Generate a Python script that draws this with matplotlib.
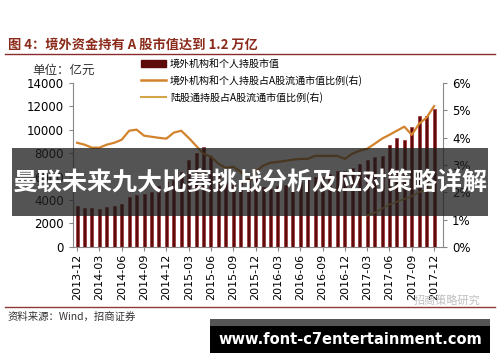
import matplotlib
matplotlib.use("Agg")
import matplotlib.pyplot as plt
from matplotlib.patches import Rectangle
from matplotlib.lines import Line2D
import numpy as np

plt.rcParams['font.family'] = ['Noto Sans CJK SC', 'DejaVu Sans']

months = ['2013-12', '2014-01', '2014-02', '2014-03', '2014-04', '2014-05', '2014-06',
          '2014-07', '2014-08', '2014-09', '2014-10', '2014-11', '2014-12',
          '2015-01', '2015-02', '2015-03', '2015-04', '2015-05', '2015-06',
          '2015-07', '2015-08', '2015-09', '2015-10', '2015-11', '2015-12',
          '2016-01', '2016-02', '2016-03', '2016-04', '2016-05', '2016-06',
          '2016-07', '2016-08', '2016-09', '2016-10', '2016-11', '2016-12',
          '2017-01', '2017-02', '2017-03', '2017-04', '2017-05', '2017-06',
          '2017-07', '2017-08', '2017-09', '2017-10', '2017-11', '2017-12']

# 境外机构和个人持股市值 (亿元)
holdings = [3450, 3350, 3290, 3230, 3370, 3460, 3630,
            4250, 4400, 4550, 4700, 5200, 5560,
            5700, 6400, 7400, 8000, 8550, 7800,
            6200, 5500, 5300, 5700, 5900, 5990,
            5100, 4900, 5230, 5300, 5350, 5500,
            5800, 6000, 6000, 6200, 6500, 6490,
            6700, 7100, 7460, 7700, 7800, 8660,
            9260, 9100, 10200, 11150, 11150, 11750]

# 境外机构和个人持股占A股流通市值比例 (%)
foreign_ratio = [3.81, 3.74, 3.63, 3.63, 3.74, 3.81, 3.92,
                 4.25, 4.29, 4.07, 4.03, 3.99, 3.96,
                 4.18, 4.25, 3.99, 3.70, 3.41, 3.30,
                 3.04, 2.89, 2.93, 2.75, 2.34, 2.75,
                 2.97, 3.08, 3.11, 3.15, 3.19, 3.22,
                 3.22, 3.33, 3.33, 3.33, 3.33, 3.22,
                 3.41, 3.52, 3.59, 3.77, 3.96, 4.10,
                 4.25, 4.40, 4.10, 4.51, 4.73, 5.15]

# 陆股通持股占A股流通市值比例 (%), from 2017-03
connect_ratio = [1.15, 1.25, 1.40, 1.55, 1.65, 1.75, 1.85, 2.00, 2.10, 2.25]

tick_labels = months[::3]

fig = plt.figure(figsize=(5.0, 3.62), dpi=100)
ax = fig.add_axes([0.146, 0.318, 0.74, 0.453])

x = np.arange(len(months))
ax.bar(x, holdings, width=0.4, color='#5e0b0b', edgecolor='#a03030', linewidth=0.5, zorder=2)
ax.set_ylim(0, 14000)
ax.set_yticks(range(0, 14001, 2000))
ax.set_xlim(-0.55, 49.2)
ax.set_xticks(x[::3])
ax.set_xticklabels(tick_labels, rotation=90, fontsize=8, family='DejaVu Sans')
ax.tick_params(axis='y', labelsize=8.5, length=3, color='#888888')
ax.tick_params(axis='x', length=3, color='#888888', pad=2)
for lab in ax.get_yticklabels():
    lab.set_family('DejaVu Sans')
ax.spines['top'].set_visible(False)
ax.spines['right'].set_visible(False)
ax.spines['left'].set_color('#888888')
ax.spines['bottom'].set_color('#888888')

ax2 = ax.twinx()
cx = np.arange(39, 39 + len(connect_ratio))
ax2.plot(x, foreign_ratio, color='#d2832c', lw=1.6, zorder=3)
ax2.plot(cx, connect_ratio, color='#d4a448', lw=1.2, zorder=3)
ax2.set_ylim(0, 6)
ax2.set_yticks(range(0, 7))
ax2.set_yticklabels(['%d%%' % v for v in range(0, 7)], fontsize=8.5, family='DejaVu Sans')
ax2.tick_params(axis='y', length=3, color='#888888')
ax2.spines['top'].set_visible(False)
ax2.spines['left'].set_visible(False)
ax2.spines['bottom'].set_visible(False)
ax2.spines['right'].set_color('#888888')

handles = [Rectangle((0, 0), 1, 1, color='#5e0b0b'),
           Line2D([], [], color='#d2832c', lw=1.8),
           Line2D([], [], color='#d4a448', lw=1.5)]
labels = ['境外机构和个人持股市值',
          '境外机构和个人持股占A股流通市值比例(右)',
          '陆股通持股占A股流通市值比例(右)']
fig.legend(handles, labels, loc='upper left', bbox_to_anchor=(137 / 500, 1 - 55 / 362),
           frameon=False, fontsize=7.2, handlelength=2.5, handleheight=0.6,
           labelspacing=0.6, handletextpad=0.4, borderaxespad=0)

fig.text(32 / 500, 1 - 70 / 362, '单位：亿元', fontsize=9, va='center', color='#333333')

# title and rules
fig.text(8 / 500, 1 - 45 / 362, '图 4：境外资金持有 A 股市值达到 1.2 万亿', fontsize=9.5,
         fontweight='bold', color='#8b2a1a', va='center')
fig.add_artist(Line2D([5 / 500, 495 / 500], [1 - 54 / 362] * 2, color='#8b2a2a', lw=1.0))
fig.add_artist(Line2D([5 / 500, 495 / 500], [1 - 307 / 362] * 2, color='#8b3a3a', lw=1.0))
fig.text(8 / 500, 1 - 317 / 362, '资料来源：Wind，招商证券', fontsize=7.5, va='center', color='#333333')
fig.text(414 / 500, 1 - 300 / 362, '招商策略研究', fontsize=8, va='center', color='#c0c0c0')

# overlay banner
fig.add_artist(Rectangle((12 / 500, 1 - 216 / 362), 476 / 500, 68 / 362,
                         transform=fig.transFigure, facecolor='#1e1e1e', alpha=0.76,
                         edgecolor='none', zorder=10))
fig.text(250 / 500, 1 - 183 / 362, '曼联未来九大比赛挑战分析及应对策略详解', fontsize=18,
         fontweight='bold', color='white', ha='center', va='center', zorder=11)

# watermark box
fig.add_artist(Rectangle((210 / 500, 1 - 326 / 362), 280 / 500, 7 / 362,
                         transform=fig.transFigure, facecolor='#555555', edgecolor='none', zorder=10))
fig.add_artist(Rectangle((210 / 500, 1 - 353 / 362), 280 / 500, 27 / 362,
                         transform=fig.transFigure, facecolor='black', edgecolor='none', zorder=10))
fig.text(350 / 500, 1 - 339 / 362, 'www.font-c7entertainment.com', fontsize=10.5,
         fontweight='bold', color='white', ha='center', va='center', zorder=11,
         family='DejaVu Sans')

fig.savefig('out.png', dpi=100)
